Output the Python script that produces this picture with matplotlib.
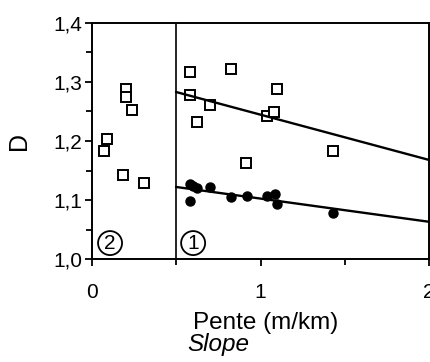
import numpy as np
import matplotlib
matplotlib.use("Agg")
import matplotlib.pyplot as plt
from matplotlib.ticker import MultipleLocator, FuncFormatter

plt.rcParams['font.family'] = ['Liberation Sans', 'DejaVu Sans']

# zone 2 (pente < 0.5) : carres ouverts
x_sq2 = [0.07, 0.09, 0.185, 0.20, 0.20, 0.24, 0.31]
D_sq2 = [1.183, 1.203, 1.142, 1.288, 1.275, 1.253, 1.129]

# zone 1 (pente > 0.5) : carres ouverts
x_sq1 = [0.583, 0.583, 0.62, 0.70, 0.827, 0.915, 1.036, 1.078, 1.10, 1.43]
D_sq1 = [1.317, 1.278, 1.232, 1.261, 1.322, 1.163, 1.242, 1.249, 1.288, 1.183]

# zone 1 : ronds pleins
x_ci1 = [0.583, 0.60, 0.62, 0.70, 0.583, 0.827, 0.917, 1.04, 1.083, 1.10, 1.43]
D_ci1 = [1.127, 1.124, 1.121, 1.122, 1.098, 1.105, 1.107, 1.107, 1.110, 1.093, 1.078]

# droites de regression (pente, ordonnee a l'origine)
fit_sq = (-0.0767, 1.3213)
fit_ci = (-0.0393, 1.1417)
x_fit = [0.5, 2.0]

fig = plt.figure(figsize=(4.31, 3.62), dpi=100)
ax = fig.add_axes([0.2135, 0.2845, 0.782, 0.652])

ax.plot(x_sq2, D_sq2, ls="none", marker="s", ms=6.5, mfc="white", mec="black", mew=1.4)
ax.plot(x_sq1, D_sq1, ls="none", marker="s", ms=6.5, mfc="white", mec="black", mew=1.4)
ax.plot(x_ci1, D_ci1, ls="none", marker="o", ms=6.5, mfc="black", mec="black")

xf = np.array(x_fit)
ax.plot(xf, fit_sq[0] * xf + fit_sq[1], color="black", lw=1.7)
ax.plot(xf, fit_ci[0] * xf + fit_ci[1], color="black", lw=1.7)

ax.axvline(0.5, color="black", lw=1.2)

ax.set_xlim(0, 2)
ax.set_ylim(1.0, 1.4)
ax.xaxis.set_major_locator(MultipleLocator(1))
ax.xaxis.set_minor_locator(MultipleLocator(0.5))
ax.yaxis.set_major_locator(MultipleLocator(0.1))
ax.yaxis.set_minor_locator(MultipleLocator(0.05))
ax.yaxis.set_major_formatter(FuncFormatter(lambda v, p: f"{v:.1f}".replace(".", ",")))
ax.xaxis.set_major_formatter(FuncFormatter(lambda v, p: f"{v:g}"))
ax.tick_params(which="both", direction="out", width=1.3, labelsize=15, pad=2)
ax.tick_params(which="major", length=5)
ax.tick_params(which="minor", length=4)
ax.tick_params(axis="x", pad=12)
for s in ax.spines.values():
    s.set_linewidth(1.4)

ax.text(0.107, 1.027, "2", fontsize=15, ha="center", va="center",
        bbox=dict(boxstyle="circle,pad=0.12", fc="none", ec="black", lw=1.3))
ax.text(0.60, 1.027, "1", fontsize=15, ha="center", va="center",
        bbox=dict(boxstyle="circle,pad=0.12", fc="none", ec="black", lw=1.3))

ax.set_ylabel("D", fontsize=18, labelpad=16)
fig.text(193 / 431, 1 - 329 / 362, "Pente (m/km)", fontsize=17.5, ha="left", va="baseline")
fig.text(187 / 431, 1 - 351 / 362, "Slope", fontsize=17.5, style="italic", ha="left", va="baseline")

fig.savefig("out.png", dpi=100)
